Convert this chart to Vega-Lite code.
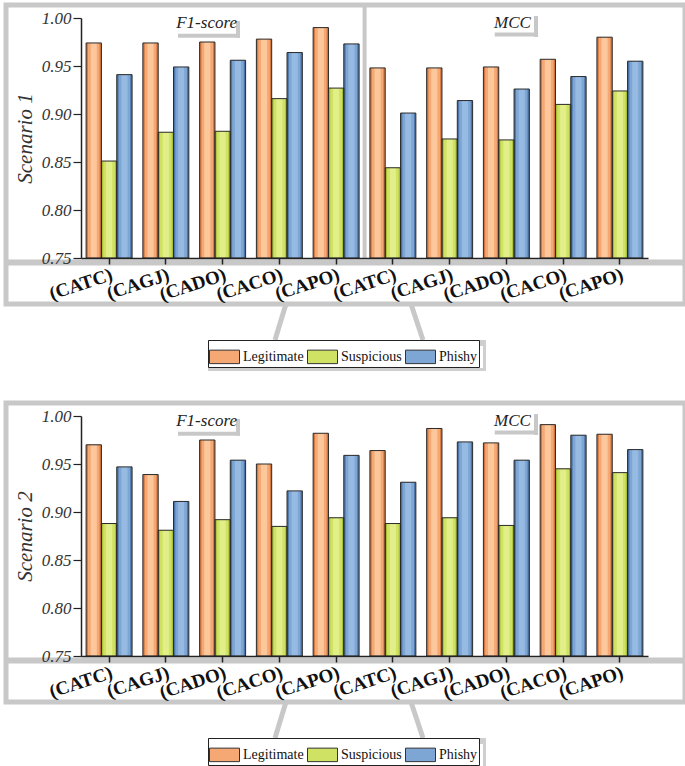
{
 "$schema":"https://vega.github.io/schema/vega-lite/v6.json",
 "background":"white",
 "padding":{"left":0,"top":0,"right":0,"bottom":0},
 "autosize":{"type":"pad"},
 "config":{"view":{"stroke":"#C8C8C8","strokeWidth":5},"concat":{"spacing":26},"font":"Liberation Serif, Times New Roman, DejaVu Serif, serif"},
 "datasets":{
  "bars":[
   {"s":1,"key":"F1|CATC","cls":"Legitimate","v":0.974},{"s":1,"key":"F1|CATC","cls":"Suspicious","v":0.851},{"s":1,"key":"F1|CATC","cls":"Phishy","v":0.941},
   {"s":1,"key":"F1|CAGJ","cls":"Legitimate","v":0.974},{"s":1,"key":"F1|CAGJ","cls":"Suspicious","v":0.881},{"s":1,"key":"F1|CAGJ","cls":"Phishy","v":0.949},
   {"s":1,"key":"F1|CADO","cls":"Legitimate","v":0.975},{"s":1,"key":"F1|CADO","cls":"Suspicious","v":0.882},{"s":1,"key":"F1|CADO","cls":"Phishy","v":0.956},
   {"s":1,"key":"F1|CACO","cls":"Legitimate","v":0.978},{"s":1,"key":"F1|CACO","cls":"Suspicious","v":0.916},{"s":1,"key":"F1|CACO","cls":"Phishy","v":0.964},
   {"s":1,"key":"F1|CAPO","cls":"Legitimate","v":0.990},{"s":1,"key":"F1|CAPO","cls":"Suspicious","v":0.927},{"s":1,"key":"F1|CAPO","cls":"Phishy","v":0.973},
   {"s":1,"key":"MCC|CATC","cls":"Legitimate","v":0.948},{"s":1,"key":"MCC|CATC","cls":"Suspicious","v":0.844},{"s":1,"key":"MCC|CATC","cls":"Phishy","v":0.901},
   {"s":1,"key":"MCC|CAGJ","cls":"Legitimate","v":0.948},{"s":1,"key":"MCC|CAGJ","cls":"Suspicious","v":0.874},{"s":1,"key":"MCC|CAGJ","cls":"Phishy","v":0.914},
   {"s":1,"key":"MCC|CADO","cls":"Legitimate","v":0.949},{"s":1,"key":"MCC|CADO","cls":"Suspicious","v":0.873},{"s":1,"key":"MCC|CADO","cls":"Phishy","v":0.926},
   {"s":1,"key":"MCC|CACO","cls":"Legitimate","v":0.957},{"s":1,"key":"MCC|CACO","cls":"Suspicious","v":0.910},{"s":1,"key":"MCC|CACO","cls":"Phishy","v":0.939},
   {"s":1,"key":"MCC|CAPO","cls":"Legitimate","v":0.980},{"s":1,"key":"MCC|CAPO","cls":"Suspicious","v":0.924},{"s":1,"key":"MCC|CAPO","cls":"Phishy","v":0.955},
   {"s":2,"key":"F1|CATC","cls":"Legitimate","v":0.970},{"s":2,"key":"F1|CATC","cls":"Suspicious","v":0.888},{"s":2,"key":"F1|CATC","cls":"Phishy","v":0.947},
   {"s":2,"key":"F1|CAGJ","cls":"Legitimate","v":0.939},{"s":2,"key":"F1|CAGJ","cls":"Suspicious","v":0.881},{"s":2,"key":"F1|CAGJ","cls":"Phishy","v":0.911},
   {"s":2,"key":"F1|CADO","cls":"Legitimate","v":0.975},{"s":2,"key":"F1|CADO","cls":"Suspicious","v":0.892},{"s":2,"key":"F1|CADO","cls":"Phishy","v":0.954},
   {"s":2,"key":"F1|CACO","cls":"Legitimate","v":0.950},{"s":2,"key":"F1|CACO","cls":"Suspicious","v":0.885},{"s":2,"key":"F1|CACO","cls":"Phishy","v":0.922},
   {"s":2,"key":"F1|CAPO","cls":"Legitimate","v":0.982},{"s":2,"key":"F1|CAPO","cls":"Suspicious","v":0.894},{"s":2,"key":"F1|CAPO","cls":"Phishy","v":0.959},
   {"s":2,"key":"MCC|CATC","cls":"Legitimate","v":0.964},{"s":2,"key":"MCC|CATC","cls":"Suspicious","v":0.888},{"s":2,"key":"MCC|CATC","cls":"Phishy","v":0.931},
   {"s":2,"key":"MCC|CAGJ","cls":"Legitimate","v":0.987},{"s":2,"key":"MCC|CAGJ","cls":"Suspicious","v":0.894},{"s":2,"key":"MCC|CAGJ","cls":"Phishy","v":0.973},
   {"s":2,"key":"MCC|CADO","cls":"Legitimate","v":0.972},{"s":2,"key":"MCC|CADO","cls":"Suspicious","v":0.886},{"s":2,"key":"MCC|CADO","cls":"Phishy","v":0.954},
   {"s":2,"key":"MCC|CACO","cls":"Legitimate","v":0.991},{"s":2,"key":"MCC|CACO","cls":"Suspicious","v":0.945},{"s":2,"key":"MCC|CACO","cls":"Phishy","v":0.980},
   {"s":2,"key":"MCC|CAPO","cls":"Legitimate","v":0.981},{"s":2,"key":"MCC|CAPO","cls":"Suspicious","v":0.941},{"s":2,"key":"MCC|CAPO","cls":"Phishy","v":0.965}
  ],
  "div":[{"key":"F1|CAPO"}],
  "f1":[{"key":"F1|CADO","t":"F1-score"}],
  "mcc":[{"key":"MCC|CADO","t":"MCC"}],
  "one":[{"n":1}]
 },
 "resolve":{"scale":{"color":"independent","x":"independent","y":"independent","xOffset":"independent"},"legend":{"color":"independent"},"axis":{"x":"independent","y":"independent"}},
 "vconcat":[
  {
   "width":679,"height":299,
   "layer":[
    {"data":{"name":"bars"},"transform":[{"filter":"datum.s==1"}],
     "mark":{"type":"bar"},
     "encoding":{
      "x":{"field":"key","type":"nominal","scale":{"domain":["F1|CATC","F1|CAGJ","F1|CADO","F1|CACO","F1|CAPO","MCC|CATC","MCC|CAGJ","MCC|CADO","MCC|CACO","MCC|CAPO"],"range":[75,642],"paddingInner":0.19,"paddingOuter":0.09},
       "axis":{"orient":"bottom","offset":-46,"title":null,"labelExpr":"'(' + split(datum.label,'|')[1] + ')'","labelAngle":-18,"labelAlign":"right","labelBaseline":"top","labelFont":"Liberation Serif, Times New Roman, DejaVu Serif, serif","labelFontWeight":"bold","labelFontSize":19,"labelColor":"#111","labelPadding":1,"labelOverlap":false,"labelBound":false,"labelFlush":false,"tickSize":6,"tickColor":"#222","tickWidth":1.5,"domainColor":"#222","domainWidth":1.5,"zindex":1}},
      "xOffset":{"field":"cls","type":"nominal","scale":{"domain":["Legitimate","Suspicious","Phishy"],"paddingInner":0,"paddingOuter":0}},
      "y":{"field":"v","type":"quantitative","scale":{"domain":[0.75,1.0],"range":[253,13],"nice":false,"zero":false},
       "axis":{"orient":"left","offset":-75,"values":[0.75,0.775,0.8,0.825,0.85,0.875,0.9,0.925,0.95,0.975,1.0],"labelExpr":"abs(datum.value*20 - round(datum.value*20)) < 0.001 ? format(datum.value,'.2f') : ''","labelFont":"Liberation Serif, Times New Roman, DejaVu Serif, serif","labelFontStyle":"italic","labelFontSize":17,"labelColor":"#333","labelPadding":2,"tickColor":"#222","tickWidth":1.2,"tickSize":{"condition":{"test":"abs(datum.value*20 - round(datum.value*20)) < 0.001","value":8},"value":4},"domainColor":"#222","domainWidth":1.5,"grid":false,"title":"Scenario 1","titleFont":"Liberation Serif, Times New Roman, DejaVu Serif, serif","titleFontStyle":"italic","titleFontWeight":"normal","titleFontSize":21,"titleColor":"#333","titlePadding":6,"zindex":1}},
      "y2":{"datum":0.75},
      "color":{"condition":[{"test":"datum.cls=='Legitimate'","value":"#D2773F"},{"test":"datum.cls=='Suspicious'","value":"#A9BF38"}],"value":"#4B75A8"}
     }},
    {"data":{"name":"bars"},"transform":[{"filter":"datum.s==1"}],
     "mark":{"type":"bar","width":{"band":0.76},"align":"center"},
     "encoding":{"x":{"field":"key","type":"nominal"},"xOffset":{"field":"cls","type":"nominal"},"y":{"field":"v","type":"quantitative"},"y2":{"datum":0.75},
      "color":{"field":"cls","type":"nominal","scale":{"domain":["Legitimate","Suspicious","Phishy"],"range":["#F5A774","#D0E264","#7DA6D4"]},
       "legend":{"orient":"none","legendX":202,"legendY":335,"direction":"horizontal","title":null,"symbolType":"M-1,-0.45H1V0.45H-1Z","symbolSize":900,"symbolStrokeColor":"#333","symbolStrokeWidth":1,"symbolOpacity":1,"labelFont":"Liberation Serif, Times New Roman, DejaVu Serif, serif","labelFontSize":14,"labelColor":"#111","labelOffset":3,"columnPadding":1,"padding":1,"strokeColor":"#222","fillColor":"white"}}}},
    {"data":{"name":"bars"},"transform":[{"filter":"datum.s==1"}],
     "mark":{"type":"bar","width":{"band":0.4},"align":"center"},
     "encoding":{"x":{"field":"key","type":"nominal"},"xOffset":{"field":"cls","type":"nominal"},"y":{"field":"v","type":"quantitative"},"y2":{"datum":0.75},
      "color":{"condition":[{"test":"datum.cls=='Legitimate'","value":"#FCC79B"},{"test":"datum.cls=='Suspicious'","value":"#E2EE88"}],"value":"#96BAE2"}}},
    {"data":{"name":"bars"},"transform":[{"filter":"datum.s==1"}],
     "mark":{"type":"bar","fill":"transparent","stroke":"#2b2b2b","strokeWidth":1},
     "encoding":{"x":{"field":"key","type":"nominal"},"xOffset":{"field":"cls","type":"nominal"},"y":{"field":"v","type":"quantitative"},"y2":{"datum":0.75}}},
    {"data":{"name":"div"},"mark":{"type":"rule","color":"#C8C8C8","strokeWidth":4},
     "encoding":{"x":{"field":"key","type":"nominal","bandPosition":1.12},"y":{"datum":0.75},"y2":{"datum":1.0135}}},
    {"data":{"name":"one"},"mark":{"type":"rule","color":"#C8C8C8","strokeWidth":6},
     "encoding":{"y":{"datum":0.7453}}},
    {"data":{"name":"one"},"mark":{"type":"rule","color":"#C8C8C8","strokeWidth":5},
     "encoding":{"x":{"datum":"F1|CACO","bandPosition":0.644},"x2":{"datum":"F1|CACO","bandPosition":0.405},"y":{"datum":0.70208},"y2":{"datum":0.66458}}},
    {"data":{"name":"one"},"mark":{"type":"rule","color":"#C8C8C8","strokeWidth":5},
     "encoding":{"x":{"datum":"MCC|CATC","bandPosition":0.894},"x2":{"datum":"MCC|CATC","bandPosition":1.155},"y":{"datum":0.70208},"y2":{"datum":0.66458}}},
    {"data":{"name":"one"},"mark":{"type":"rule","color":"#CFCFCF","strokeWidth":6},
     "encoding":{"x":{"datum":"F1|CADO","bandPosition":0.182},"x2":{"datum":"MCC|CAGJ","bandPosition":1.291},"y":{"datum":0.66146}}},
    {"data":{"name":"one"},"mark":{"type":"rule","color":"#CFCFCF","strokeWidth":3},
     "encoding":{"x":{"datum":"F1|CADO","bandPosition":0.182},"x2":{"datum":"MCC|CAGJ","bandPosition":1.291},"y":{"datum":0.63385}}},
    {"data":{"name":"one"},"mark":{"type":"rule","color":"#CFCFCF","strokeWidth":3},
     "encoding":{"x":{"datum":"F1|CADO","bandPosition":0.215},"y":{"datum":0.66146},"y2":{"datum":0.63385}}},
    {"data":{"name":"one"},"mark":{"type":"rule","color":"#CFCFCF","strokeWidth":3},
     "encoding":{"x":{"datum":"MCC|CAGJ","bandPosition":1.258},"y":{"datum":0.66146},"y2":{"datum":0.63385}}},
    {"data":{"name":"one"},"mark":{"type":"rule","color":"#C8C8C8","strokeWidth":4},
     "encoding":{"x":{"datum":"F1|CAGJ","bandPosition":0.764},"x2":{"datum":"F1|CADO","bandPosition":0.878},"y":{"datum":0.98156}}},
    {"data":{"name":"one"},"mark":{"type":"rule","color":"#C8C8C8","strokeWidth":4},
     "encoding":{"x":{"datum":"F1|CADO","bandPosition":0.835},"y":{"datum":0.99688},"y2":{"datum":0.97948}}},
    {"data":{"name":"one"},"mark":{"type":"rule","color":"#C8C8C8","strokeWidth":4},
     "encoding":{"x":{"datum":"MCC|CADO","bandPosition":0.246},"x2":{"datum":"MCC|CADO","bandPosition":1.188},"y":{"datum":0.98281}}},
    {"data":{"name":"one"},"mark":{"type":"rule","color":"#C8C8C8","strokeWidth":4},
     "encoding":{"x":{"datum":"MCC|CADO","bandPosition":1.144},"y":{"datum":1.00208},"y2":{"datum":0.98021}}},
    {"data":{"name":"f1"},"mark":{"type":"text","font":"Liberation Serif, Times New Roman, DejaVu Serif, serif","fontStyle":"italic","fontSize":17,"dx":-16,"baseline":"middle","color":"#222"},
     "encoding":{"x":{"field":"key","type":"nominal"},"y":{"datum":0.995},"text":{"field":"t"}}},
    {"data":{"name":"mcc"},"mark":{"type":"text","font":"Liberation Serif, Times New Roman, DejaVu Serif, serif","fontStyle":"italic","fontSize":17,"dx":6,"baseline":"middle","color":"#222"},
     "encoding":{"x":{"field":"key","type":"nominal"},"y":{"datum":0.995},"text":{"field":"t"}}}
   ]
  },
  {
   "width":679,"height":299,
   "layer":[
    {"data":{"name":"bars"},"transform":[{"filter":"datum.s==2"}],
     "mark":{"type":"bar"},
     "encoding":{
      "x":{"field":"key","type":"nominal","scale":{"domain":["F1|CATC","F1|CAGJ","F1|CADO","F1|CACO","F1|CAPO","MCC|CATC","MCC|CAGJ","MCC|CADO","MCC|CACO","MCC|CAPO"],"range":[75,642],"paddingInner":0.19,"paddingOuter":0.09},
       "axis":{"orient":"bottom","offset":-46,"title":null,"labelExpr":"'(' + split(datum.label,'|')[1] + ')'","labelAngle":-18,"labelAlign":"right","labelBaseline":"top","labelFont":"Liberation Serif, Times New Roman, DejaVu Serif, serif","labelFontWeight":"bold","labelFontSize":19,"labelColor":"#111","labelPadding":1,"labelOverlap":false,"labelBound":false,"labelFlush":false,"tickSize":6,"tickColor":"#222","tickWidth":1.5,"domainColor":"#222","domainWidth":1.5,"zindex":1}},
      "xOffset":{"field":"cls","type":"nominal","scale":{"domain":["Legitimate","Suspicious","Phishy"],"paddingInner":0,"paddingOuter":0}},
      "y":{"field":"v","type":"quantitative","scale":{"domain":[0.75,1.0],"range":[253,13],"nice":false,"zero":false},
       "axis":{"orient":"left","offset":-75,"values":[0.75,0.775,0.8,0.825,0.85,0.875,0.9,0.925,0.95,0.975,1.0],"labelExpr":"abs(datum.value*20 - round(datum.value*20)) < 0.001 ? format(datum.value,'.2f') : ''","labelFont":"Liberation Serif, Times New Roman, DejaVu Serif, serif","labelFontStyle":"italic","labelFontSize":17,"labelColor":"#333","labelPadding":2,"tickColor":"#222","tickWidth":1.2,"tickSize":{"condition":{"test":"abs(datum.value*20 - round(datum.value*20)) < 0.001","value":8},"value":4},"domainColor":"#222","domainWidth":1.5,"grid":false,"title":"Scenario 2","titleFont":"Liberation Serif, Times New Roman, DejaVu Serif, serif","titleFontStyle":"italic","titleFontWeight":"normal","titleFontSize":21,"titleColor":"#333","titlePadding":6,"zindex":1}},
      "y2":{"datum":0.75},
      "color":{"condition":[{"test":"datum.cls=='Legitimate'","value":"#D2773F"},{"test":"datum.cls=='Suspicious'","value":"#A9BF38"}],"value":"#4B75A8"}
     }},
    {"data":{"name":"bars"},"transform":[{"filter":"datum.s==2"}],
     "mark":{"type":"bar","width":{"band":0.76},"align":"center"},
     "encoding":{"x":{"field":"key","type":"nominal"},"xOffset":{"field":"cls","type":"nominal"},"y":{"field":"v","type":"quantitative"},"y2":{"datum":0.75},
      "color":{"field":"cls","type":"nominal","scale":{"domain":["Legitimate","Suspicious","Phishy"],"range":["#F5A774","#D0E264","#7DA6D4"]},
       "legend":{"orient":"none","legendX":202,"legendY":335,"direction":"horizontal","title":null,"symbolType":"M-1,-0.45H1V0.45H-1Z","symbolSize":900,"symbolStrokeColor":"#333","symbolStrokeWidth":1,"symbolOpacity":1,"labelFont":"Liberation Serif, Times New Roman, DejaVu Serif, serif","labelFontSize":14,"labelColor":"#111","labelOffset":3,"columnPadding":1,"padding":1,"strokeColor":"#222","fillColor":"white"}}}},
    {"data":{"name":"bars"},"transform":[{"filter":"datum.s==2"}],
     "mark":{"type":"bar","width":{"band":0.4},"align":"center"},
     "encoding":{"x":{"field":"key","type":"nominal"},"xOffset":{"field":"cls","type":"nominal"},"y":{"field":"v","type":"quantitative"},"y2":{"datum":0.75},
      "color":{"condition":[{"test":"datum.cls=='Legitimate'","value":"#FCC79B"},{"test":"datum.cls=='Suspicious'","value":"#E2EE88"}],"value":"#96BAE2"}}},
    {"data":{"name":"bars"},"transform":[{"filter":"datum.s==2"}],
     "mark":{"type":"bar","fill":"transparent","stroke":"#2b2b2b","strokeWidth":1},
     "encoding":{"x":{"field":"key","type":"nominal"},"xOffset":{"field":"cls","type":"nominal"},"y":{"field":"v","type":"quantitative"},"y2":{"datum":0.75}}},
    {"data":{"name":"one"},"mark":{"type":"rule","color":"#C8C8C8","strokeWidth":6},
     "encoding":{"y":{"datum":0.7453}}},
    {"data":{"name":"one"},"mark":{"type":"rule","color":"#C8C8C8","strokeWidth":5},
     "encoding":{"x":{"datum":"F1|CACO","bandPosition":0.644},"x2":{"datum":"F1|CACO","bandPosition":0.405},"y":{"datum":0.70208},"y2":{"datum":0.66458}}},
    {"data":{"name":"one"},"mark":{"type":"rule","color":"#C8C8C8","strokeWidth":5},
     "encoding":{"x":{"datum":"MCC|CATC","bandPosition":0.894},"x2":{"datum":"MCC|CATC","bandPosition":1.155},"y":{"datum":0.70208},"y2":{"datum":0.66458}}},
    {"data":{"name":"one"},"mark":{"type":"rule","color":"#CFCFCF","strokeWidth":6},
     "encoding":{"x":{"datum":"F1|CADO","bandPosition":0.182},"x2":{"datum":"MCC|CAGJ","bandPosition":1.291},"y":{"datum":0.66146}}},
    {"data":{"name":"one"},"mark":{"type":"rule","color":"#CFCFCF","strokeWidth":3},
     "encoding":{"x":{"datum":"F1|CADO","bandPosition":0.182},"x2":{"datum":"MCC|CAGJ","bandPosition":1.291},"y":{"datum":0.63385}}},
    {"data":{"name":"one"},"mark":{"type":"rule","color":"#CFCFCF","strokeWidth":3},
     "encoding":{"x":{"datum":"F1|CADO","bandPosition":0.215},"y":{"datum":0.66146},"y2":{"datum":0.63385}}},
    {"data":{"name":"one"},"mark":{"type":"rule","color":"#CFCFCF","strokeWidth":3},
     "encoding":{"x":{"datum":"MCC|CAGJ","bandPosition":1.258},"y":{"datum":0.66146},"y2":{"datum":0.63385}}},
    {"data":{"name":"one"},"mark":{"type":"rule","color":"#C8C8C8","strokeWidth":4},
     "encoding":{"x":{"datum":"F1|CAGJ","bandPosition":0.764},"x2":{"datum":"F1|CADO","bandPosition":0.878},"y":{"datum":0.98156}}},
    {"data":{"name":"one"},"mark":{"type":"rule","color":"#C8C8C8","strokeWidth":4},
     "encoding":{"x":{"datum":"F1|CADO","bandPosition":0.835},"y":{"datum":0.99688},"y2":{"datum":0.97948}}},
    {"data":{"name":"one"},"mark":{"type":"rule","color":"#C8C8C8","strokeWidth":4},
     "encoding":{"x":{"datum":"MCC|CADO","bandPosition":0.246},"x2":{"datum":"MCC|CADO","bandPosition":1.188},"y":{"datum":0.98281}}},
    {"data":{"name":"one"},"mark":{"type":"rule","color":"#C8C8C8","strokeWidth":4},
     "encoding":{"x":{"datum":"MCC|CADO","bandPosition":1.144},"y":{"datum":1.00208},"y2":{"datum":0.98021}}},
    {"data":{"name":"f1"},"mark":{"type":"text","font":"Liberation Serif, Times New Roman, DejaVu Serif, serif","fontStyle":"italic","fontSize":17,"dx":-16,"baseline":"middle","color":"#222"},
     "encoding":{"x":{"field":"key","type":"nominal"},"y":{"datum":0.995},"text":{"field":"t"}}},
    {"data":{"name":"mcc"},"mark":{"type":"text","font":"Liberation Serif, Times New Roman, DejaVu Serif, serif","fontStyle":"italic","fontSize":17,"dx":6,"baseline":"middle","color":"#222"},
     "encoding":{"x":{"field":"key","type":"nominal"},"y":{"datum":0.995},"text":{"field":"t"}}}
   ]
  }
 ]
}
